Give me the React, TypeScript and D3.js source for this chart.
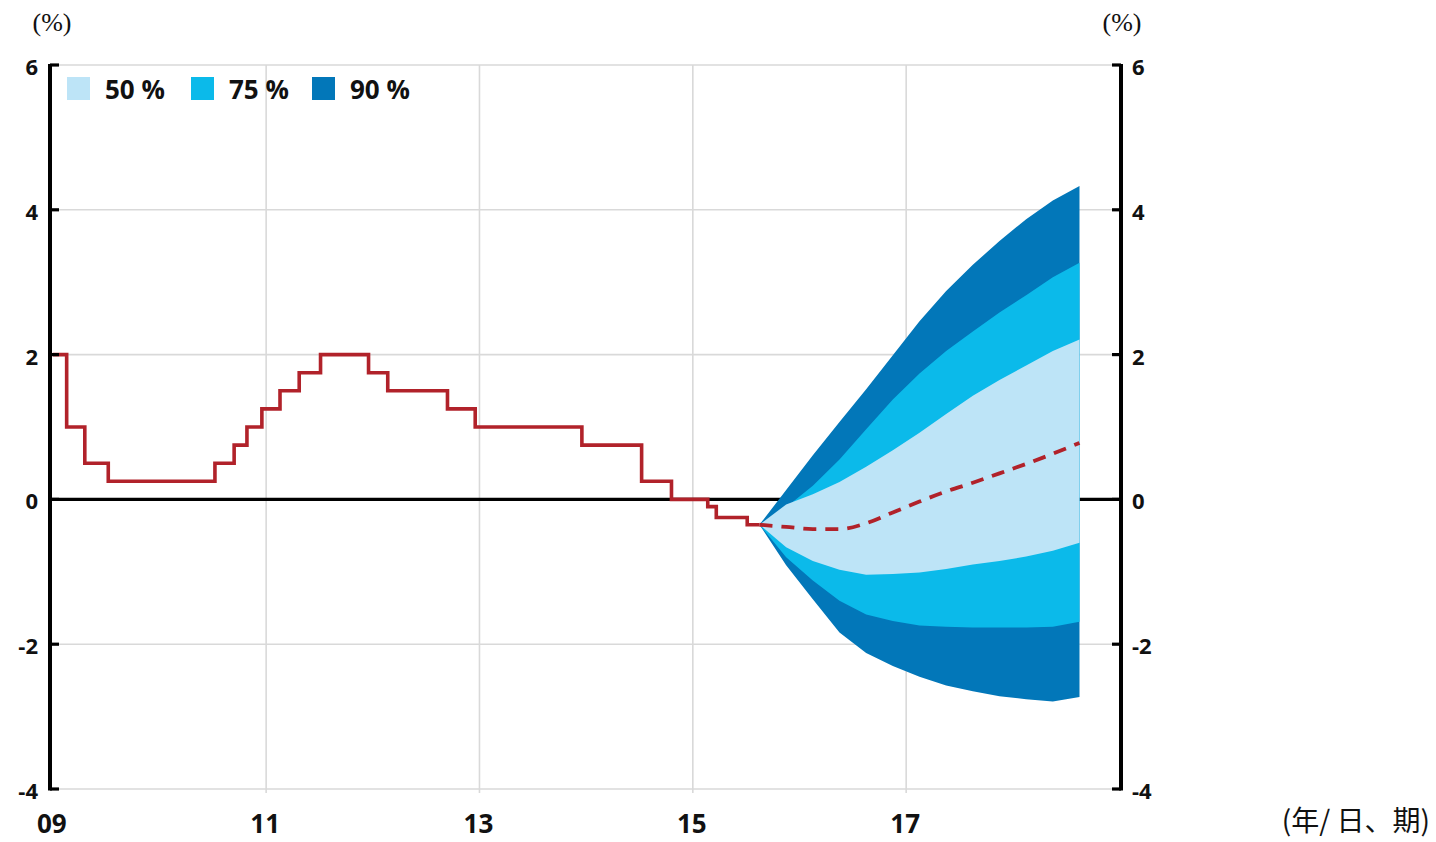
import React from "react";
import * as d3 from "d3";

const W = 1436;
const H = 842;

// Policy rate history (step series)
const rateDates = [2009.0, 2009.13, 2009.30, 2009.52, 2010.52, 2010.70, 2010.82, 2010.96, 2011.13, 2011.31, 2011.51, 2011.96, 2012.14, 2012.70, 2012.96, 2013.96, 2014.52, 2014.80, 2015.14, 2015.22, 2015.51, 2015.625];
const rateValues = [2.0, 1.0, 0.5, 0.25, 0.5, 0.75, 1.0, 1.25, 1.5, 1.75, 2.0, 1.75, 1.5, 1.25, 1.0, 0.75, 0.25, 0, -0.1, -0.25, -0.35, -0.35];

// Forecast (quarterly)
const forecastDates = [2015.625, 2015.875, 2016.125, 2016.375, 2016.625, 2016.875, 2017.125, 2017.375, 2017.625, 2017.875, 2018.125, 2018.375, 2018.625];
const forecast = [-0.35, -0.38, -0.41, -0.41, -0.33, -0.18, -0.03, 0.11, 0.23, 0.36, 0.49, 0.63, 0.78];
const upper90 = [-0.35, 0.13, 0.61, 1.07, 1.52, 1.99, 2.46, 2.88, 3.24, 3.57, 3.87, 4.13, 4.33];
const upper75 = [-0.35, -0.11, 0.19, 0.55, 0.97, 1.38, 1.74, 2.05, 2.32, 2.58, 2.82, 3.07, 3.27];
const upper50 = [-0.35, -0.07, 0.07, 0.24, 0.45, 0.68, 0.92, 1.18, 1.43, 1.65, 1.85, 2.05, 2.21];
const lower50 = [-0.35, -0.66, -0.85, -0.97, -1.04, -1.03, -1.01, -0.96, -0.90, -0.85, -0.79, -0.71, -0.60];
const lower75 = [-0.35, -0.80, -1.12, -1.40, -1.59, -1.68, -1.74, -1.76, -1.77, -1.77, -1.77, -1.76, -1.69];
const lower90 = [-0.35, -0.91, -1.38, -1.84, -2.12, -2.30, -2.45, -2.57, -2.65, -2.72, -2.76, -2.79, -2.73];

const yTicks = [6, 4, 2, 0, -2, -4];
const yTickLabels = ["6", "4", "2", "0", "-2", "-4"];
const xTicks = [2009, 2011, 2013, 2015, 2017];
const xTickLabels = ["09", "11", "13", "15", "17"];
const gridX = [2011, 2013, 2015, 2017];

const legendLabels = ["50 %", "75 %", "90 %"];
const bandColors = { b50: "#bde4f7", b75: "#0bbaea", b90: "#0277b9" };
const legendColors = [bandColors.b50, bandColors.b75, bandColors.b90];

const unitLabel = "(%)";
const xUnitLabel = "(年/ 日、期)";

export default function App() {
  const x = d3.scaleLinear().domain([2009, 2019]).range([52.8, 1119.5]);
  const y = d3.scaleLinear().domain([-4, 6]).range([789, 65]);
  const axL = 50;
  const axR = 1121;

  const step = d3
    .line<number>()
    .x((_, i) => x(rateDates[i]))
    .y((d) => y(d))
    .curve(d3.curveStepAfter)(rateValues) as string;

  const band = (lo: number[], hi: number[]) =>
    d3
      .area<number>()
      .x((_, i) => x(forecastDates[i]))
      .y0((_, i) => y(lo[i]))
      .y1((_, i) => y(hi[i]))
      .curve(d3.curveLinear)(forecastDates) as string;

  const fc = d3
    .line<number>()
    .x((_, i) => x(forecastDates[i]))
    .y((d) => y(d))
    .curve(d3.curveMonotoneX)(forecast) as string;

  const num = "'Open Sans', 'DejaVu Sans', sans-serif";
  const serif = "'Liberation Serif', 'DejaVu Serif', serif";

  return (
    <svg
      width={W}
      height={H}
      style={{ position: "absolute", left: 0, top: 0, background: "#fff" }}
    >
      <rect x={0} y={0} width={W} height={H} fill="#fff" />
      {/* grid */}
      {gridX.map((t) => (
        <line key={"gx" + t} x1={x(t)} x2={x(t)} y1={y(6)} y2={y(-4) + 4} stroke="#d9d9d9" strokeWidth={1.6} />
      ))}
      {yTicks.filter((t) => t !== 0).map((t) => (
        <line key={"gy" + t} x1={axL} x2={axR} y1={y(t)} y2={y(t)} stroke="#d9d9d9" strokeWidth={1.6} />
      ))}
      {/* zero line */}
      <line x1={axL} x2={axR} y1={y(0)} y2={y(0)} stroke="#000" strokeWidth={3.2} />

      {/* fan */}
      <path d={band(lower90, upper90)} fill={bandColors.b90} />
      <path d={band(lower75, upper75)} fill={bandColors.b75} />
      <path d={band(lower50, upper50)} fill={bandColors.b50} />

      {/* history */}
      <path d={step} fill="none" stroke="#b1222a" strokeWidth={3.6} strokeLinejoin="miter" />
      <path d={fc} fill="none" stroke="#b1222a" strokeWidth={3.8} strokeDasharray="13 9" />

      {/* axes */}
      <line x1={axL} x2={axL} y1={y(6) - 1} y2={y(-4) + 1.5} stroke="#000" strokeWidth={4} />
      <line x1={axR} x2={axR} y1={y(6) - 1} y2={y(-4) + 1.5} stroke="#000" strokeWidth={4} />
      {yTicks.map((t) => (
        <g key={"t" + t}>
          <line x1={axL} x2={axL + 9} y1={y(t)} y2={y(t)} stroke="#000" strokeWidth={3.2} />
          <line x1={axR - 9} x2={axR} y1={y(t)} y2={y(t)} stroke="#000" strokeWidth={3.2} />
        </g>
      ))}
      {yTicks.map((t, i) => (
        <g key={"yl" + t} fontFamily={num} fontWeight={700} fontSize={22} fill="#111">
          <text x={38} y={y(t) + 10} textAnchor="end">{yTickLabels[i]}</text>
          <text x={1132} y={y(t) + 10} textAnchor="start">{yTickLabels[i]}</text>
        </g>
      ))}
      {xTicks.map((t, i) => (
        <text key={"xl" + t} x={x(t) - 1} y={833} textAnchor="middle" fontFamily={num} fontWeight={700} fontSize={26} fill="#111">
          {xTickLabels[i]}
        </text>
      ))}

      {/* unit labels */}
      <text x={52} y={31} textAnchor="middle" fontFamily={serif} fontSize={26} fill="#111">{unitLabel}</text>
      <text x={1122} y={31} textAnchor="middle" fontFamily={serif} fontSize={26} fill="#111">{unitLabel}</text>
      <text x={1430} y={831} textAnchor="end" fontFamily="'Noto Sans CJK JP', sans-serif" fontSize={28} fill="#111">{xUnitLabel}</text>

      {/* legend */}
      {legendLabels.map((l, i) => {
        const lx = [67, 191, 312][i];
        return (
          <g key={l}>
            <rect x={lx} y={77} width={23} height={23} fill={legendColors[i]} />
            <text x={lx + 38} y={99} fontFamily={num} fontWeight={700} fontSize={26} fill="#111">{l}</text>
          </g>
        );
      })}
    </svg>
  );
}
